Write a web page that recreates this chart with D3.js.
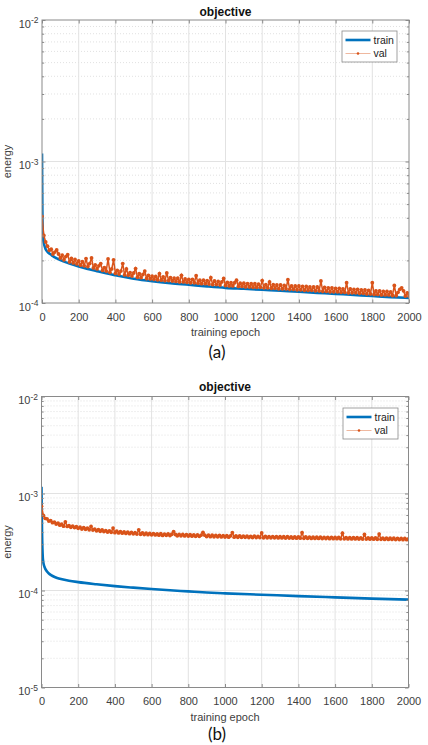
<!DOCTYPE html>
<html><head><meta charset="utf-8">
<script src="https://cdn.jsdelivr.net/npm/d3@7"></script>
<style>html,body{margin:0;padding:0;background:#fff}svg{display:block}</style>
</head><body>
<svg id="chart" width="428" height="745"></svg>
<script>
// ---------------- data ----------------
const epochTicks = [0, 200, 400, 600, 800, 1000, 1200, 1400, 1600, 1800, 2000];
const seriesNames = ["train", "val"];
const panelTitles = ["objective", "objective"];
const panelLabels = ["(a)", "(b)"];
const xLabel = "training epoch";
const yLabel = "energy";

// (a) training loss, read at selected epochs
const trainEpochsA = [0, 1, 2, 3, 5, 7, 10, 20, 30, 40, 50, 60, 70, 80, 90, 100, 150, 200, 250, 300, 350, 400, 450, 500, 600, 700, 800, 900, 1000, 1100, 1200, 1300, 1400, 1500, 1600, 1700, 1800, 1900, 2000];
const trainA = [1.14e-3, 7.0e-4, 4.6e-4, 3.6e-4, 3.0e-4, 2.8e-4, 2.65e-4, 2.40e-4, 2.30e-4, 2.24e-4, 2.19e-4, 2.14e-4, 2.10e-4, 2.07e-4, 2.04e-4, 2.01e-4, 1.90e-4, 1.81e-4, 1.74e-4, 1.68e-4, 1.62e-4, 1.57e-4, 1.525e-4, 1.485e-4, 1.425e-4, 1.38e-4, 1.345e-4, 1.31e-4, 1.28e-4, 1.26e-4, 1.24e-4, 1.22e-4, 1.20e-4, 1.18e-4, 1.16e-4, 1.14e-4, 1.12e-4, 1.10e-4, 1.085e-4];

// (a) validation loss, every 10 epochs from 0 to 2000
const valA = [
4.10e-4,3.00e-4,2.70e-4,2.52e-4,2.36e-4,2.40e-4,2.22e-4,2.29e-4,2.37e-4,2.22e-4,
2.08e-4,2.18e-4,2.02e-4,2.13e-4,2.20e-4,1.95e-4,2.07e-4,1.92e-4,2.03e-4,1.89e-4,
1.98e-4,1.85e-4,1.96e-4,1.83e-4,2.06e-4,1.81e-4,1.90e-4,2.08e-4,1.77e-4,1.86e-4,
1.74e-4,1.83e-4,1.90e-4,1.70e-4,1.78e-4,1.68e-4,2.05e-4,1.65e-4,1.74e-4,2.02e-4,
1.62e-4,1.70e-4,1.60e-4,1.68e-4,1.90e-4,1.58e-4,1.74e-4,1.57e-4,1.64e-4,1.55e-4,
1.63e-4,1.75e-4,1.52e-4,1.61e-4,1.51e-4,1.59e-4,1.68e-4,1.49e-4,1.57e-4,1.48e-4,
1.55e-4,1.47e-4,1.54e-4,1.46e-4,1.61e-4,1.45e-4,1.53e-4,1.44e-4,1.63e-4,1.44e-4,
1.51e-4,1.43e-4,1.50e-4,1.42e-4,1.50e-4,1.41e-4,1.57e-4,1.41e-4,1.48e-4,1.40e-4,
1.47e-4,1.39e-4,1.47e-4,1.39e-4,1.56e-4,1.38e-4,1.45e-4,1.37e-4,1.45e-4,1.37e-4,
1.44e-4,1.36e-4,1.51e-4,1.35e-4,1.43e-4,1.35e-4,1.42e-4,1.34e-4,1.41e-4,1.49e-4,
1.33e-4,1.40e-4,1.32e-4,1.39e-4,1.32e-4,1.39e-4,1.45e-4,1.31e-4,1.38e-4,1.31e-4,
1.38e-4,1.30e-4,1.37e-4,1.30e-4,1.37e-4,1.29e-4,1.37e-4,1.29e-4,1.36e-4,1.29e-4,
1.44e-4,1.28e-4,1.35e-4,1.28e-4,1.41e-4,1.27e-4,1.35e-4,1.27e-4,1.34e-4,1.26e-4,
1.34e-4,1.26e-4,1.33e-4,1.26e-4,1.46e-4,1.25e-4,1.32e-4,1.25e-4,1.32e-4,1.24e-4,
1.32e-4,1.24e-4,1.31e-4,1.23e-4,1.31e-4,1.23e-4,1.30e-4,1.23e-4,1.30e-4,1.22e-4,
1.30e-4,1.22e-4,1.43e-4,1.21e-4,1.29e-4,1.21e-4,1.28e-4,1.20e-4,1.28e-4,1.20e-4,
1.27e-4,1.20e-4,1.27e-4,1.19e-4,1.26e-4,1.19e-4,1.39e-4,1.18e-4,1.26e-4,1.18e-4,
1.25e-4,1.18e-4,1.25e-4,1.17e-4,1.24e-4,1.17e-4,1.24e-4,1.16e-4,1.23e-4,1.16e-4,
1.39e-4,1.15e-4,1.22e-4,1.15e-4,1.22e-4,1.14e-4,1.21e-4,1.14e-4,1.21e-4,1.14e-4,
1.20e-4,1.13e-4,1.33e-4,1.13e-4,1.19e-4,1.25e-4,1.28e-4,1.22e-4,1.12e-4,1.18e-4,
1.12e-4];

// (b) training loss, read at selected epochs
const trainEpochsB = [0, 1, 2, 3, 4, 5, 7, 10, 15, 20, 30, 40, 50, 75, 100, 150, 200, 300, 400, 500, 600, 700, 800, 900, 1000, 1200, 1400, 1600, 1800, 2000];
const trainB = [1.17e-3, 8.0e-4, 5.5e-4, 4.0e-4, 3.2e-4, 2.7e-4, 2.2e-4, 1.95e-4, 1.78e-4, 1.68e-4, 1.57e-4, 1.50e-4, 1.45e-4, 1.37e-4, 1.32e-4, 1.26e-4, 1.22e-4, 1.16e-4, 1.11e-4, 1.07e-4, 1.035e-4, 1.005e-4, 9.8e-5, 9.55e-5, 9.35e-5, 9.05e-5, 8.75e-5, 8.5e-5, 8.25e-5, 8.05e-5];

// (b) validation loss, every 10 epochs from 0 to 2000
const valB = [
7.40e-4,5.95e-4,5.55e-4,5.48e-4,5.20e-4,5.25e-4,5.00e-4,5.08e-4,4.85e-4,4.95e-4,
4.72e-4,4.82e-4,4.60e-4,5.10e-4,4.58e-4,4.66e-4,4.48e-4,4.62e-4,4.45e-4,4.55e-4,
4.38e-4,4.50e-4,4.30e-4,4.45e-4,4.28e-4,4.40e-4,4.22e-4,4.58e-4,4.20e-4,4.30e-4,
4.12e-4,4.25e-4,4.08e-4,4.22e-4,4.05e-4,4.15e-4,4.00e-4,4.12e-4,3.98e-4,4.40e-4,
3.95e-4,4.08e-4,3.92e-4,4.05e-4,3.90e-4,4.02e-4,3.88e-4,4.00e-4,3.85e-4,3.98e-4,
3.84e-4,3.95e-4,3.82e-4,4.22e-4,3.80e-4,3.92e-4,3.78e-4,3.90e-4,3.76e-4,3.88e-4,
3.75e-4,3.86e-4,3.74e-4,3.84e-4,3.72e-4,3.85e-4,3.70e-4,3.82e-4,3.71e-4,3.83e-4,
3.69e-4,3.80e-4,4.05e-4,3.78e-4,3.67e-4,3.79e-4,3.66e-4,3.78e-4,3.65e-4,3.77e-4,
3.64e-4,3.76e-4,3.63e-4,3.75e-4,3.62e-4,3.74e-4,3.62e-4,3.73e-4,3.98e-4,3.72e-4,
3.60e-4,3.72e-4,3.59e-4,3.71e-4,3.58e-4,3.70e-4,3.58e-4,3.69e-4,3.57e-4,3.68e-4,
3.56e-4,3.67e-4,3.55e-4,3.66e-4,3.95e-4,3.55e-4,3.65e-4,3.54e-4,3.66e-4,3.53e-4,
3.64e-4,3.53e-4,3.63e-4,3.52e-4,3.62e-4,3.52e-4,3.63e-4,3.51e-4,3.62e-4,3.51e-4,
3.92e-4,3.50e-4,3.61e-4,3.50e-4,3.60e-4,3.49e-4,3.60e-4,3.49e-4,3.59e-4,3.48e-4,
3.59e-4,3.48e-4,3.58e-4,3.47e-4,3.58e-4,3.47e-4,3.57e-4,3.46e-4,3.57e-4,3.46e-4,
3.56e-4,3.46e-4,3.95e-4,3.45e-4,3.56e-4,3.45e-4,3.55e-4,3.44e-4,3.55e-4,3.44e-4,
3.54e-4,3.44e-4,3.54e-4,3.43e-4,3.53e-4,3.43e-4,3.53e-4,3.42e-4,3.53e-4,3.42e-4,
3.52e-4,3.42e-4,3.52e-4,3.41e-4,3.90e-4,3.41e-4,3.51e-4,3.40e-4,3.51e-4,3.40e-4,
3.50e-4,3.40e-4,3.50e-4,3.39e-4,3.49e-4,3.39e-4,3.78e-4,3.39e-4,3.49e-4,3.38e-4,
3.48e-4,3.38e-4,3.48e-4,3.37e-4,3.82e-4,3.37e-4,3.47e-4,3.36e-4,3.47e-4,3.36e-4,
3.46e-4,3.36e-4,3.46e-4,3.35e-4,3.45e-4,3.35e-4,3.45e-4,3.34e-4,3.44e-4,3.34e-4,
3.40e-4];
const valEpochs = d3.range(0, 2001, 10);

// ---------------- drawing ----------------
const BLUE = "#0072BD", ORANGE = "#D95319";
const FONT = "'Liberation Sans', Arial, Helvetica, sans-serif";
const svg = d3.select("#chart");

const panels = [
  { title: panelTitles[0], tag: panelLabels[0], yDomain: [1e-4, 1e-2], left: 42, right: 409, top: 20, bottom: 303,
    train: trainEpochsA.map((e, i) => [e, trainA[i]]), val: valEpochs.map((e, i) => [e, valA[i]]),
    legend: { x: 342, y: 31 }, titleY: 15.5, xLabY: 335.5, tagY: 357.5 },
  { title: panelTitles[1], tag: panelLabels[1], yDomain: [1e-5, 1e-2], left: 41.5, right: 408.5, top: 396.5, bottom: 687.5,
    train: trainEpochsB.map((e, i) => [e, trainB[i]]), val: valEpochs.map((e, i) => [e, valB[i]]),
    legend: { x: 343, y: 408 }, titleY: 391, xLabY: 720.5, tagY: 739.5 }
];

panels.forEach((p, pi) => {
  const g = svg.append("g");
  const x = d3.scaleLinear().domain([0, 2000]).range([p.left, p.right]);
  const y = d3.scaleLog().domain(p.yDomain).range([p.bottom, p.top]);
  const lo = Math.round(Math.log10(p.yDomain[0])), hi = Math.round(Math.log10(p.yDomain[1]));
  const decades = d3.range(lo, hi + 1).map(k => Math.pow(10, k));
  const minors = [];
  d3.range(lo, hi).forEach(k => { for (let m = 2; m <= 9; m++) minors.push(m * Math.pow(10, k)); });

  // grid
  g.append("g").selectAll("line").data(minors).join("line")
    .attr("x1", p.left).attr("x2", p.right).attr("y1", d => y(d)).attr("y2", d => y(d))
    .attr("stroke", "#d4d4d4").attr("stroke-width", 0.7).attr("stroke-dasharray", "1,2");
  g.append("g").selectAll("line").data(decades.slice(1, -1)).join("line")
    .attr("x1", p.left).attr("x2", p.right).attr("y1", d => y(d)).attr("y2", d => y(d))
    .attr("stroke", "#e2e2e2").attr("stroke-width", 1);
  g.append("g").selectAll("line").data(epochTicks.slice(1, -1)).join("line")
    .attr("x1", d => x(d)).attr("x2", d => x(d)).attr("y1", p.top).attr("y2", p.bottom)
    .attr("stroke", "#e2e2e2").attr("stroke-width", 1);

  // clip
  const cid = "clip" + pi;
  svg.append("clipPath").attr("id", cid).append("rect")
    .attr("x", p.left).attr("y", p.top).attr("width", p.right - p.left).attr("height", p.bottom - p.top);
  const plot = g.append("g").attr("clip-path", `url(#${cid})`);

  // train
  plot.append("path").datum(p.train)
    .attr("d", d3.line().x(d => x(d[0])).y(d => y(d[1])).curve(d3.curveMonotoneX))
    .attr("fill", "none").attr("stroke", BLUE).attr("stroke-width", 2.6);
  // val
  plot.append("path").datum(p.val)
    .attr("d", d3.line().x(d => x(d[0])).y(d => y(d[1])))
    .attr("fill", "none").attr("stroke", ORANGE).attr("stroke-width", 1.5);
  plot.append("g").selectAll("circle").data(p.val).join("circle")
    .attr("cx", d => x(d[0])).attr("cy", d => y(d[1])).attr("r", 1.9).attr("fill", ORANGE);

  // axes box
  g.append("rect").attr("x", p.left).attr("y", p.top).attr("width", p.right - p.left).attr("height", p.bottom - p.top)
    .attr("fill", "none").attr("stroke", "#8a8a8a").attr("stroke-width", 1);

  const styleAxis = sel => { sel.select(".domain").remove(); sel.selectAll(".tick line").attr("stroke", "#8a8a8a"); };
  // bottom axis with labels
  const xb = g.append("g").attr("transform", `translate(0,${p.bottom})`)
    .call(d3.axisBottom(x).tickValues(epochTicks).tickSize(-3.5).tickPadding(10).tickFormat(d3.format("d")));
  styleAxis(xb);
  xb.selectAll(".tick text").attr("font-family", FONT).attr("font-size", 11).attr("fill", "#404040");
  const xt = g.append("g").attr("transform", `translate(0,${p.top})`)
    .call(d3.axisTop(x).tickValues(epochTicks).tickSize(-3.5).tickFormat(""));
  styleAxis(xt);
  // y axes ticks
  const yl = g.append("g").attr("transform", `translate(${p.left},0)`)
    .call(d3.axisLeft(y).tickValues(decades).tickSize(-3.5).tickFormat(""));
  styleAxis(yl);
  const yr = g.append("g").attr("transform", `translate(${p.right},0)`)
    .call(d3.axisRight(y).tickValues(decades).tickSize(-3.5).tickFormat(""));
  styleAxis(yr);
  const ylm = g.append("g").attr("transform", `translate(${p.left},0)`)
    .call(d3.axisLeft(y).tickValues(minors).tickSize(-2.2).tickFormat(""));
  styleAxis(ylm);
  const yrm = g.append("g").attr("transform", `translate(${p.right},0)`)
    .call(d3.axisRight(y).tickValues(minors).tickSize(-2.2).tickFormat(""));
  styleAxis(yrm);

  // y tick labels 10^k
  decades.forEach(v => {
    const k = Math.round(Math.log10(v));
    const t = g.append("text").attr("x", p.left - 3.5).attr("y", y(v) + 7.5)
      .attr("text-anchor", "end").attr("font-family", FONT).attr("font-size", 11).attr("fill", "#404040");
    t.append("tspan").text("10");
    t.append("tspan").attr("dy", -4.5).attr("font-size", 8.5).text(String(k));
  });

  // titles & labels
  g.append("text").attr("x", (p.left + p.right) / 2).attr("y", p.titleY).attr("text-anchor", "middle")
    .attr("font-family", FONT).attr("font-size", 12).attr("font-weight", "bold").attr("fill", "#111").text(p.title);
  g.append("text").attr("x", (p.left + p.right) / 2).attr("y", p.xLabY).attr("text-anchor", "middle")
    .attr("font-family", FONT).attr("font-size", 11).attr("fill", "#404040").text(xLabel);
  g.append("text").attr("transform", `translate(10.5,${(p.top + p.bottom) / 2}) rotate(-90)`).attr("text-anchor", "middle")
    .attr("font-family", FONT).attr("font-size", 11).attr("fill", "#404040").text(yLabel);
  g.append("text").attr("x", 217).attr("y", p.tagY).attr("text-anchor", "middle")
    .attr("font-family", "Lato, 'Open Sans', sans-serif").attr("font-size", 17).attr("fill", "#111").text(p.tag);

  // legend
  const L = g.append("g").attr("transform", `translate(${p.legend.x},${p.legend.y})`);
  L.append("rect").attr("width", 55).attr("height", 31).attr("fill", "#fff").attr("stroke", "#8a8a8a").attr("stroke-width", 0.8);
  L.append("line").attr("x1", 3.5).attr("x2", 28.5).attr("y1", 9).attr("y2", 9).attr("stroke", BLUE).attr("stroke-width", 2.6);
  L.append("line").attr("x1", 3.5).attr("x2", 28.5).attr("y1", 22.5).attr("y2", 22.5).attr("stroke", ORANGE).attr("stroke-width", 0.6).attr("stroke-opacity", 0.7);
  L.append("circle").attr("cx", 16).attr("cy", 22.5).attr("r", 1.3).attr("fill", ORANGE);
  seriesNames.forEach((n, i) => {
    L.append("text").attr("x", 31.5).attr("y", i === 0 ? 12.8 : 26.3).attr("font-family", FONT).attr("font-size", 10.5)
      .attr("fill", "#222").text(n);
  });
});
</script>
</body></html>
